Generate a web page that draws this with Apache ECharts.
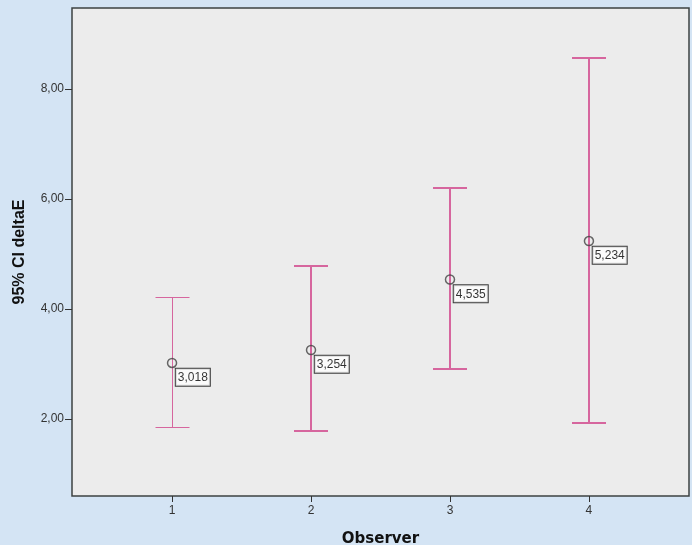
<!DOCTYPE html>
<html><head><meta charset="utf-8">
<script src="https://cdn.jsdelivr.net/npm/echarts@6/dist/echarts.min.js"></script>
<style>html,body{margin:0;padding:0;background:#d4e4f4;}#c{width:692px;height:545px;}</style>
</head><body><div id="c"></div>
<script>
var observers = [1, 2, 3, 4];
var observerLabels = ['1', '2', '3', '4'];
var means = [3.018, 3.254, 4.535, 5.234];
var lower = [1.855, 1.78, 2.91, 1.93];
var upper = [4.22, 4.78, 6.2, 8.56];
var yTicks = [2, 4, 6, 8];

var barColor = '#d6669e';
var chart = echarts.init(document.getElementById('c'));
var fmt = function (v) { return v.toFixed(2).replace('.', ','); };

chart.setOption({
  backgroundColor: '#d4e4f4',
  animation: false,
  grid: { left: 72, top: 8, right: 3, bottom: 49, outerBoundsMode: 'none', containLabel: false,
    show: true, backgroundColor: '#ececec', borderColor: '#3c4242', borderWidth: 1.5 },
  xAxis: {
    type: 'value', min: 0.28, max: 4.72,
    name: 'Observer', nameLocation: 'middle', nameGap: 36,
    nameTextStyle: { fontFamily: 'DejaVu Sans', fontWeight: 'bold', fontSize: 15, color: '#111' },
    axisLine: { show: false },
    splitLine: { show: false },
    axisTick: { show: true, length: 6, lineStyle: { color: '#333' }, customValues: observers },
    axisLabel: { customValues: observers, margin: 9, fontFamily: 'Liberation Sans', fontSize: 12, color: '#333',
      formatter: function (v) { return observerLabels[observers.indexOf(v)]; } }
  },
  yAxis: {
    type: 'value', min: 0.6, max: 9.47,
    name: '95% CI deltaE', nameLocation: 'middle', nameGap: 44,
    nameTextStyle: { fontFamily: 'Liberation Sans', fontWeight: 'bold', fontSize: 16, color: '#111' },
    axisLine: { show: false },
    splitLine: { show: false },
    axisTick: { show: true, length: 7, lineStyle: { color: '#333' }, customValues: yTicks },
    axisLabel: { customValues: yTicks, margin: 8, fontFamily: 'Liberation Sans', fontSize: 12, color: '#333', formatter: fmt }
  },
  series: [
    {
      type: 'custom',
      data: observers.map(function (x, i) { return [x, lower[i], upper[i]]; }),
      renderItem: function (params, api) {
        var x = api.value(0);
        var lo = api.coord([x, api.value(1)]);
        var hi = api.coord([x, api.value(2)]);
        var w = params.dataIndex === 0 ? 1 : 2;
        var off = w === 1 ? 0.5 : 0;
        var cx = Math.round(lo[0]) + off;
        var ly = Math.round(lo[1]) + off;
        var hy = Math.round(hi[1]) + off;
        var half = 17;
        var st = { stroke: barColor, lineWidth: w };
        return {
          type: 'group',
          children: [
            { type: 'line', shape: { x1: cx, y1: ly, x2: cx, y2: hy }, style: st },
            { type: 'line', shape: { x1: cx - half, y1: hy, x2: cx + half, y2: hy }, style: st },
            { type: 'line', shape: { x1: cx - half, y1: ly, x2: cx + half, y2: ly }, style: st }
          ]
        };
      },
      z: 2
    },
    {
      type: 'scatter',
      data: observers.map(function (x, i) { return [x, means[i]]; }),
      symbol: 'circle', symbolSize: 9,
      itemStyle: { color: 'rgba(0,0,0,0)', borderColor: '#444', borderWidth: 1.5 },
      label: {
        show: true, position: [9, 11],
        formatter: function (p) { return p.value[1].toFixed(3).replace('.', ','); },
        fontFamily: 'Liberation Sans', fontSize: 12, color: '#000',
        backgroundColor: '#fff', borderColor: '#111', borderWidth: 1, padding: [3, 2, 2, 2]
      },
      z: 3
    }
  ]
});
</script></body></html>
